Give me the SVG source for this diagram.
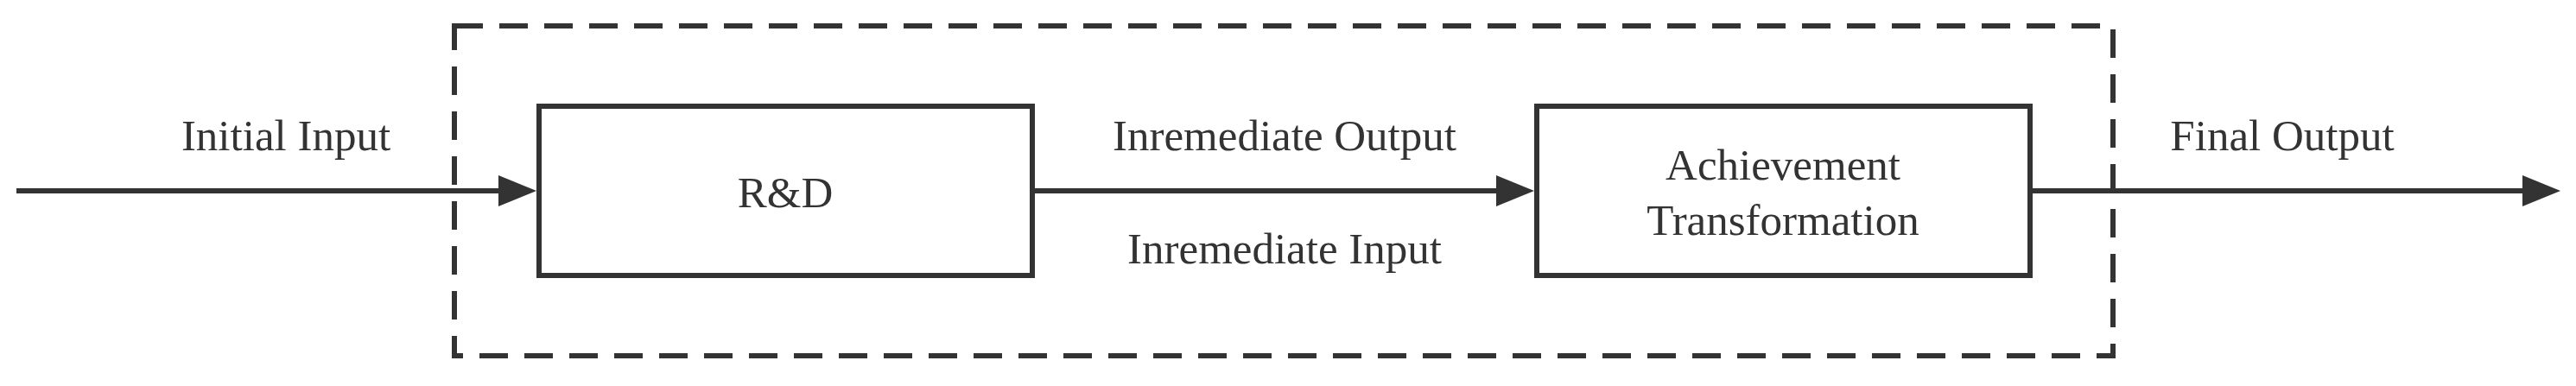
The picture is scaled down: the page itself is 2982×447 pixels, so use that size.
<svg xmlns="http://www.w3.org/2000/svg" width="2982" height="447" viewBox="0 0 2982 447">
<style>
.box{fill:#ffffff;stroke:#333333;stroke-width:6}
.frame{fill:none;stroke:#333333;stroke-width:6;stroke-dasharray:33 19}
.conn{fill:none;stroke:#333333;stroke-width:6}
.t{font-family:"Liberation Serif","Times New Roman",serif;font-size:51px;fill:#333333;text-anchor:middle}
</style>
<defs>
<marker id="arr" viewBox="0 0 44 36" markerWidth="44" markerHeight="36" refX="2" refY="18" orient="auto" markerUnits="userSpaceOnUse">
<path d="M0,0 L44,18 L0,36 Z" fill="#333333"/>
</marker>
</defs>
<rect width="2982" height="447" fill="#ffffff"/>
<g id="frame">
<rect class="frame" x="526" y="30" width="1920" height="382"/>
</g>
<g id="connectors">
<line class="conn" x1="19" y1="221" x2="579" y2="221" marker-end="url(#arr)"/>
<line class="conn" x1="1195" y1="221" x2="1734" y2="221" marker-end="url(#arr)"/>
<line class="conn" x1="2350" y1="221" x2="2922" y2="221" marker-end="url(#arr)"/>
<text class="t" x="331" y="174">Initial Input</text>
<text class="t" x="1487" y="174">Inremediate Output</text>
<text class="t" x="1487" y="305">Inremediate Input</text>
<text class="t" x="2642" y="174">Final Output</text>
</g>
<g id="rd">
<rect class="box" x="624" y="123" width="571" height="196"/>
<text class="t" x="909" y="240">R&amp;D</text>
</g>
<g id="achievement">
<rect class="box" x="1779" y="123" width="571" height="196"/>
<text class="t" x="2064" y="208">Achievement</text>
<text class="t" x="2064" y="272">Transformation</text>
</g>
</svg>
